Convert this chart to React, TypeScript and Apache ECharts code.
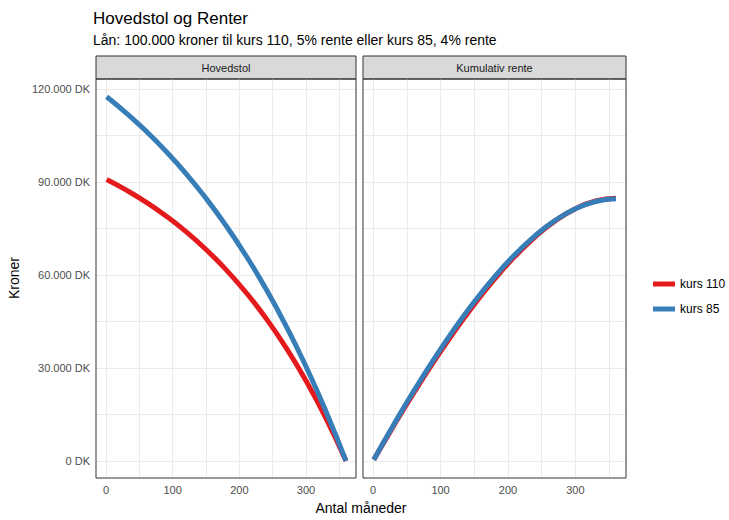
import React, { useEffect, useRef } from "react";
import * as echarts from "echarts";

const months = [1, 30, 60, 90, 120, 150, 180, 210, 240, 270, 300, 330, 360];
const principal110 = [90800, 87424, 83480, 79007, 73950, 68210, 61718, 54344, 46023, 36580, 25878, 13745, 0];
const principal85 = [117500, 112306, 106406, 99871, 92678, 84718, 75920, 66201, 55463, 43588, 30468, 15972, 0];
const interest110 = [380, 11155, 21851, 32018, 41601, 50501, 58649, 65915, 72234, 77431, 81369, 83876, 84771];
const interest85 = [390, 11510, 22461, 32777, 42435, 51326, 59379, 66511, 72624, 77600, 81331, 83695, 84565];
const panels = ["Hovedstol", "Kumulativ rente"];
const yMajor = [0, 30000, 60000, 90000, 120000];
const yGrid = [0, 15000, 30000, 45000, 60000, 75000, 90000, 105000, 120000];
const xMajor = [0, 100, 200, 300];
const xGrid = [0, 50, 100, 150, 200, 250, 300, 350];
const names = ["kurs 110", "kurs 85"];
const colors = ["#e41a1c", "#377eb8"];

const FONT = "Liberation Sans, Arial, sans-serif";
const fmt = (v: number) => (v === 0 ? "0 DK" : `${v / 1000}.000 DK`);
const pairs = (ys: number[]) => months.map((m, i) => [m, ys[i]]);

export default function App() {
  const ref = useRef<HTMLDivElement>(null);
  useEffect(() => {
    const chart = echarts.init(ref.current!, null, { renderer: "svg" });
    const grids = [
      { left: 96, top: 79, width: 260, height: 399 },
      { left: 363, top: 79, width: 263, height: 399 },
    ];
    const xAxis = grids.map((_, i) => ({
      type: "value", gridIndex: i, min: -15, max: 375,
      axisLine: { show: false },
      axisTick: { show: false, customValues: xGrid },
      axisLabel: { customValues: xMajor, color: "#4d4d4d", fontSize: 11, fontFamily: FONT, margin: 6 },
      splitLine: { show: true, lineStyle: { color: "#ebebeb", width: 1 } },
    }));
    const yAxis = grids.map((_, i) => ({
      type: "value", gridIndex: i, min: -5500, max: 123200,
      axisLine: { show: false },
      axisTick: { show: false, customValues: yGrid },
      axisLabel: { show: i === 0, customValues: yMajor, formatter: fmt, color: "#4d4d4d", fontSize: 11, fontFamily: FONT, margin: 6 },
      splitLine: { show: true, lineStyle: { color: "#ebebeb", width: 1 } },
    }));
    const mk = (name: string, ys: number[], gi: number, c: string) => ({
      type: "line", name, xAxisIndex: gi, yAxisIndex: gi, data: pairs(ys),
      smooth: true, showSymbol: false, symbol: "none",
      lineStyle: { color: c, width: 5 }, itemStyle: { color: c },
    });
    const graphic: any[] = [];
    grids.forEach((g, i) => {
      graphic.push({ type: "rect", shape: { x: g.left, y: g.top, width: g.width, height: g.height }, style: { fill: "none", stroke: "#333", lineWidth: 1 }, z: 10 });
      graphic.push({ type: "rect", shape: { x: g.left, y: 56, width: g.width, height: 23 }, style: { fill: "#d9d9d9", stroke: "#333", lineWidth: 1 } });
      graphic.push({ type: "text", x: g.left + g.width / 2, y: 67.5, style: { text: panels[i], fontSize: 11, fontFamily: FONT, fill: "#1a1a1a", align: "center", verticalAlign: "middle" } });
    });
    graphic.push({ type: "text", x: 361, y: 508, style: { text: "Antal måneder", fontSize: 14, fontFamily: FONT, fill: "#000", align: "center", verticalAlign: "middle" } });
    graphic.push({ type: "text", x: 14, y: 278, rotation: Math.PI / 2, style: { text: "Kroner", fontSize: 14, fontFamily: FONT, fill: "#000", align: "center", verticalAlign: "middle" } });
    chart.setOption({
      animation: false,
      backgroundColor: "#fff",
      title: {
        text: "Hovedstol og Renter", left: 88, top: 5,
        textStyle: { fontSize: 17, fontWeight: "normal", fontFamily: FONT, color: "#000" },
        subtext: "Lån: 100.000 kroner til kurs 110, 5% rente eller kurs 85, 4% rente",
        subtextStyle: { fontSize: 14, fontFamily: FONT, color: "#000" }, itemGap: 6,
      },
      legend: {
        orient: "vertical", left: 648, top: 273, itemGap: 13, itemWidth: 22, itemHeight: 5,
        icon: "rect", data: names,
        textStyle: { fontSize: 12, fontFamily: FONT, color: "#000" },
      },
      grid: grids,
      xAxis, yAxis,
      series: [
        mk(names[0], principal110, 0, colors[0]),
        mk(names[1], principal85, 0, colors[1]),
        mk(names[0], interest110, 1, colors[0]),
        mk(names[1], interest85, 1, colors[1]),
      ],
      graphic,
    });
    return () => chart.dispose();
  }, []);
  return <div ref={ref} style={{ position: "fixed", left: 0, top: 0, width: 729, height: 520 }} />;
}
